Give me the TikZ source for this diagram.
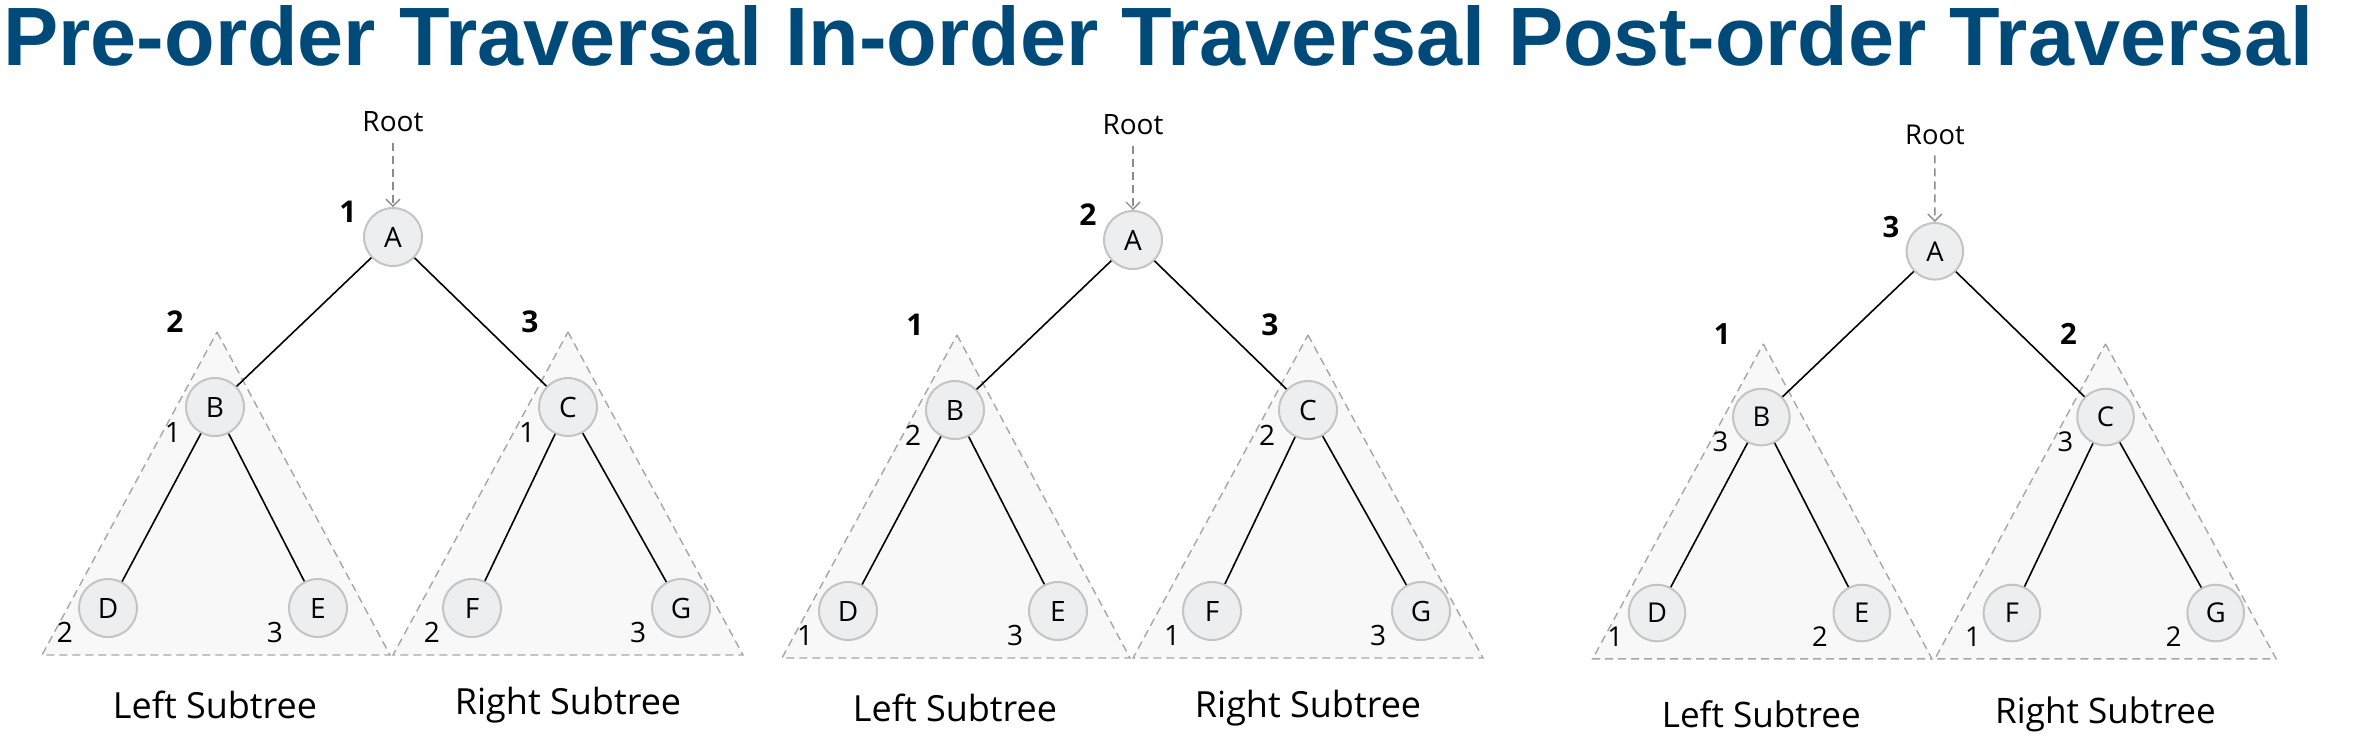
\documentclass[tikz,border=0pt]{standalone}
\usepackage{fontspec}
\setmainfont{Open Sans}
\newfontfamily\titlefont{Liberation Sans}
\usetikzlibrary{arrows.meta}
\definecolor{titleblue}{HTML}{004A7A}
\definecolor{nodefill}{HTML}{ECEEEF}
\definecolor{nodeline}{HTML}{C4C4C4}
\definecolor{trifill}{HTML}{F8F8F8}
\definecolor{triline}{HTML}{A6A6A6}
\definecolor{arrowgray}{HTML}{8C8C8C}
\tikzset{
  tnode/.style={circle, draw=nodeline, line width=1pt, fill=nodefill, minimum size=29pt, inner sep=0pt, font=\fontsize{14}{16}\selectfont},
  treeedge/.style={line width=0.8pt, draw=black},
  subtri/.style={draw=triline, dash pattern=on 4pt off 2.5pt, fill=trifill, line width=0.7pt},
  ordnum/.style={font=\fontsize{14}{16}\selectfont, inner sep=0pt},
  bordnum/.style={font=\fontsize{15}{17}\selectfont\bfseries, inner sep=0pt},
  rootlbl/.style={font=\fontsize{14}{16}\selectfont, inner xsep=2pt, inner ysep=5pt},
  sublbl/.style={font=\fontsize{18}{21}\selectfont, inner sep=0pt},
  rootarrow/.style={draw=arrowgray, dash pattern=on 4pt off 2.5pt, line width=0.7pt, -{Straight Barb[length=3.5pt,width=7pt]}},
  titletext/.style={font=\titlefont\bfseries\fontsize{41.4}{45}\selectfont, text=titleblue, inner sep=0pt}
}
% #1 prefix, #2 #3 #4 visit numbers, #5 y of Root, #6 y of subtree labels
\newcommand\travpanel[6]{%
  \path[subtri] (217,332) -- (390,655) -- (42,655) -- cycle;
  \path[subtri] (568,332) -- (743,655) -- (393,655) -- cycle;
  \node[tnode] (#1A) at (393,237) {A};
  \node[tnode] (#1B) at (215,407) {B};
  \node[tnode] (#1C) at (568,407) {C};
  \node[tnode] (#1D) at (108,608) {D};
  \node[tnode] (#1E) at (318,608) {E};
  \node[tnode] (#1F) at (472,608) {F};
  \node[tnode] (#1G) at (681,608) {G};
  \node[rootlbl] (#1root) at (393,#5) {Root};
  \draw[rootarrow] (#1root) -- (#1A);
  \draw[treeedge] (#1A) -- (#1B);
  \draw[treeedge] (#1A) -- (#1C);
  \draw[treeedge] (#1B) -- (#1D);
  \draw[treeedge] (#1B) -- (#1E);
  \draw[treeedge] (#1C) -- (#1F);
  \draw[treeedge] (#1C) -- (#1G);
  \node[bordnum] (#1nA) at (348,212) {#2};
  \node[bordnum] (#1nB) at (175,322) {#3};
  \node[bordnum] (#1nC) at (530,322) {#4};
  \node[ordnum] (#1sB) at (173,432) {#2};
  \node[ordnum] (#1sD) at (65,632) {#3};
  \node[ordnum] (#1sE) at (275,632) {#4};
  \node[ordnum] (#1sC) at (527,432) {#2};
  \node[ordnum] (#1sF) at (432,632) {#3};
  \node[ordnum] (#1sG) at (638,632) {#4};
  \node[sublbl] (#1L) at (215,#6) {Left Subtree};
  \node[sublbl] (#1R) at (568,#6) {Right Subtree};
}
\begin{document}
\begin{tikzpicture}[x=0.5pt, y=-0.5pt]
  \useasboundingbox (0,0) rectangle (2356,752);
  \node[titletext, anchor=base west] (title) at (3,65) {Pre-order Traversal In-order Traversal Post-order Traversal};
  \begin{scope}
    \travpanel{p}{1}{2}{3}{122}{705}
  \end{scope}
  \begin{scope}[shift={(740,3)}]
    \travpanel{i}{2}{1}{3}{122}{705}
  \end{scope}
  \begin{scope}[shift={(1551.7,20.2)}, scale=0.975, transform shape]
    \travpanel{q}{3}{1}{2}{118}{712}
  \end{scope}
\end{tikzpicture}
\end{document}
